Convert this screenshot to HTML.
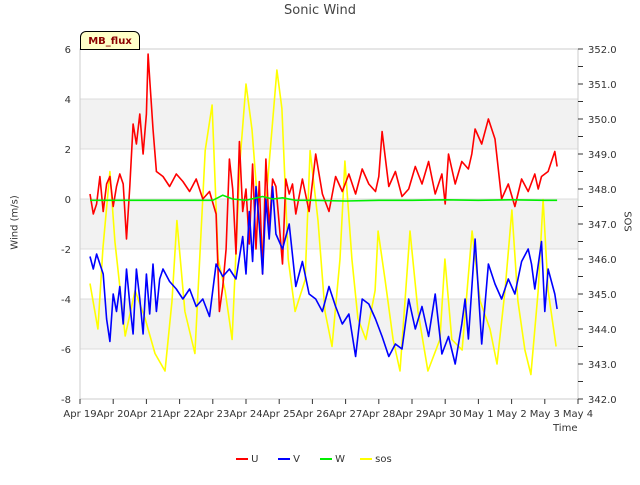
<!DOCTYPE html>
<html><head><meta charset="utf-8"><style>
body{margin:0;background:#fff;font-family:"Liberation Sans",sans-serif}
svg text{font-family:"DejaVu Sans","Liberation Sans",sans-serif}
</style></head><body>
<svg id="c" width="640" height="480" xmlns="http://www.w3.org/2000/svg"></svg>
<script>
const xTickLabels=["Apr 19","Apr 20","Apr 21","Apr 22","Apr 23","Apr 24","Apr 25","Apr 26","Apr 27","Apr 28","Apr 29","Apr 30","May 1","May 2","May 3","May 4"];
const yTicks=[-8,-6,-4,-2,0,2,4,6];
const y2Ticks=[342,343,344,345,346,347,348,349,350,351,352];
const uDays=[0.3,0.4,0.5,0.6,0.7,0.8,0.9,1.0,1.1,1.2,1.3,1.4,1.5,1.6,1.7,1.8,1.9,2.0,2.05,2.1,2.2,2.3,2.5,2.7,2.9,3.1,3.3,3.5,3.7,3.9,4.1,4.2,4.3,4.4,4.5,4.6,4.7,4.8,4.9,5.0,5.1,5.2,5.3,5.4,5.5,5.6,5.7,5.8,5.9,6.0,6.1,6.2,6.3,6.4,6.5,6.7,6.9,7.1,7.3,7.5,7.7,7.9,8.1,8.3,8.5,8.7,8.9,9.0,9.1,9.3,9.5,9.7,9.9,10.1,10.3,10.5,10.7,10.9,11.0,11.1,11.3,11.5,11.7,11.8,11.9,12.1,12.3,12.5,12.7,12.9,13.1,13.3,13.5,13.7,13.8,13.9,14.1,14.3,14.37];
const uVals=[0.2,-0.6,-0.2,0.9,-0.5,0.6,0.9,-0.3,0.5,1.0,0.6,-1.6,0.5,3.0,2.2,3.4,1.8,3.4,5.8,4.8,2.8,1.1,0.9,0.5,1.0,0.7,0.3,0.8,0.0,0.3,-0.6,-4.5,-3.5,-2.0,1.6,0.4,-2.2,2.3,-0.5,0.4,-1.8,1.4,-2.0,0.7,-3.0,1.6,-1.2,0.8,0.5,-1.0,-2.6,0.8,0.2,0.6,-0.6,0.8,-0.5,1.8,0.2,-0.5,0.9,0.3,1.0,0.2,1.2,0.6,0.3,0.9,2.7,0.5,1.1,0.1,0.4,1.3,0.6,1.5,0.2,1.0,-0.2,1.8,0.6,1.5,1.2,1.8,2.8,2.2,3.2,2.4,0.0,0.6,-0.3,0.8,0.3,1.0,0.4,0.9,1.1,1.9,1.3,0.2,-0.3,0.6,0.4,0.8,0.2];
const vDays=[0.3,0.4,0.5,0.7,0.8,0.9,1.0,1.1,1.2,1.3,1.4,1.5,1.6,1.7,1.8,1.9,2.0,2.1,2.2,2.3,2.4,2.5,2.7,2.9,3.1,3.3,3.5,3.7,3.9,4.1,4.3,4.5,4.7,4.9,5.0,5.1,5.2,5.3,5.4,5.5,5.6,5.7,5.8,5.9,6.1,6.3,6.5,6.7,6.9,7.1,7.3,7.5,7.7,7.9,8.1,8.3,8.5,8.7,8.9,9.1,9.3,9.5,9.7,9.9,10.1,10.3,10.5,10.7,10.9,11.1,11.3,11.5,11.6,11.7,11.9,12.1,12.3,12.5,12.7,12.9,13.1,13.3,13.5,13.6,13.7,13.9,14.0,14.1,14.3,14.37];
const vVals=[-2.3,-2.8,-2.2,-3.0,-4.8,-5.7,-3.8,-4.5,-3.5,-5.0,-2.8,-4.2,-5.4,-2.8,-4.0,-5.4,-3.0,-4.6,-2.6,-4.5,-3.2,-2.8,-3.3,-3.6,-4.0,-3.6,-4.3,-4.0,-4.7,-2.6,-3.1,-2.8,-3.2,-1.5,-3.0,-0.5,-2.5,0.5,-1.0,-3.0,0.0,-1.6,0.5,-1.4,-2.0,-1.0,-3.5,-2.5,-3.8,-4.0,-4.5,-3.5,-4.3,-5.0,-4.6,-6.3,-4.0,-4.2,-4.8,-5.5,-6.3,-5.8,-6.0,-4.0,-5.2,-4.3,-5.5,-3.8,-6.2,-5.5,-6.6,-5.0,-4.0,-5.6,-1.6,-5.8,-2.6,-3.4,-4.0,-3.2,-3.8,-2.5,-2.0,-2.6,-3.6,-1.7,-4.5,-2.8,-3.8,-4.4];
const wDays=[0.3,1.0,2.0,3.0,4.0,4.3,4.6,5.0,5.5,5.8,6.1,6.5,7.0,8.0,9.0,10.0,11.0,12.0,13.0,14.0,14.37];
const wVals=[-0.05,-0.05,-0.05,-0.05,-0.05,0.15,0.0,-0.05,0.1,0.0,0.05,-0.05,-0.05,-0.08,-0.05,-0.05,-0.03,-0.05,-0.03,-0.05,-0.05];
const sDays=[0.30,0.54,0.69,0.90,1.05,1.36,1.66,1.96,2.26,2.56,2.77,2.92,3.16,3.46,3.77,3.98,4.16,4.37,4.58,4.82,5.00,5.18,5.48,5.66,5.93,6.08,6.27,6.48,6.78,6.93,7.17,7.38,7.59,7.83,7.98,8.19,8.37,8.61,8.89,8.98,9.19,9.43,9.64,9.94,10.18,10.48,10.84,10.99,11.20,11.51,11.81,12.05,12.35,12.56,12.80,13.01,13.19,13.40,13.58,13.80,13.95,14.10,14.34];
const sVals=[345.3,344.0,346.3,348.5,346.5,343.8,345.1,344.3,343.3,342.8,344.8,347.1,344.5,343.3,349.1,350.4,346.0,345.1,343.7,348.8,351.0,349.7,346.0,348.3,351.4,350.3,346.0,344.5,345.4,349.1,347.1,344.5,343.5,346.0,348.8,346.0,344.3,343.7,345.1,346.8,345.4,343.7,342.8,346.8,344.5,342.8,343.7,346.0,343.7,343.4,346.8,344.8,344.0,343.0,345.1,347.4,344.8,343.4,342.7,345.1,347.7,345.1,343.5];

const L=80,R=578,T=49,B=399;
const X=d=>L+(R-L)*d/15;
const Y=v=>T+(B-T)*(6-v)/14;
const Y2=v=>T+(B-T)*(352-v)/10;
const svg=document.getElementById('c');
const NS='http://www.w3.org/2000/svg';
function mk(tag,attrs,parent){const e=document.createElementNS(NS,tag);for(const k in attrs)e.setAttribute(k,attrs[k]);(parent||svg).appendChild(e);return e;}
[[4,2],[0,-2],[-4,-6]].forEach(b=>{const r=mk('rect',{x:L,y:Y(b[0]),width:R-L,height:Y(b[1])-Y(b[0]),fill:'#f2f2f2'});

});
yTicks.forEach(v=>{const g=mk('line',{x1:L,x2:R,y1:Y(v),y2:Y(v),stroke:'#dcdcdc','stroke-width':1});


const t=mk('text',{x:L-9,y:Y(v)+4,'text-anchor':'end','font-size':10,fill:'#333'});t.textContent=v;

});
const fr=mk('rect',{x:L,y:T,width:R-L,height:B-T,fill:'none',stroke:'#cccccc'});


xTickLabels.forEach((s,i)=>{mk('line',{x1:X(i),x2:X(i),y1:B,y2:B+5,stroke:'#333'});
const t=mk('text',{x:X(i),y:B+18,'text-anchor':'middle','font-size':10,fill:'#333'});t.textContent=s;

});
for(let v=342;v<=352.01;v+=0.5){mk('line',{x1:R,x2:R+5,y1:Y2(v),y2:Y2(v),stroke:'#333'});}
y2Ticks.forEach(v=>{const t=mk('text',{x:R+10,y:Y2(v)+4,'font-size':10,fill:'#333'});t.textContent=v.toFixed(1);

});
function series(days,vals,yf,col,name){const p=mk('polyline',{points:days.map((d,i)=>X(d).toFixed(1)+','+yf(vals[i]).toFixed(1)).join(' '),fill:'none',stroke:col,'stroke-width':1.6,'stroke-linejoin':'round'});

}
series(sDays,sVals,Y2,'#ffff00','sos-line');
series(uDays,uVals,Y,'#ff0000','u-line');
series(vDays,vVals,Y,'#0000ff','v-line');
series(wDays,wVals,Y,'#00ee00','w-line');
</script>
<div style="position:absolute;left:0;top:0;width:640px;height:480px;pointer-events:none">
<div style="position:absolute;top:3px;width:640px;text-align:center;font:13px 'DejaVu Sans',sans-serif;color:#444">Sonic Wind</div>
<div style="position:absolute;left:-20px;top:217px;width:70px;text-align:center;transform:rotate(-90deg);font:10px 'DejaVu Sans',sans-serif;color:#333">Wind (m/s)</div>
<div style="position:absolute;left:607px;top:216px;width:40px;text-align:center;transform:rotate(90deg);font:10px 'DejaVu Sans',sans-serif;color:#333">SOS</div>
<div style="position:absolute;left:553px;top:423px;font:10px 'DejaVu Sans',sans-serif;color:#333">Time</div>
<div style="position:absolute;left:80px;top:31px;width:58px;height:17px;background:#ffffc8;border:1px solid #000;border-radius:6px 6px 0 0;font:bold 10px 'DejaVu Sans',sans-serif;color:#8b0000;text-align:center;line-height:19px">MB_flux</div>
<div style="position:absolute;top:454px;left:0;width:640px;font:10px 'DejaVu Sans',sans-serif;color:#333">
<span style="position:absolute;left:236px"><span style="display:inline-block;width:12px;height:2px;background:#f00;vertical-align:middle"></span> U</span>
<span style="position:absolute;left:278px"><span style="display:inline-block;width:12px;height:2px;background:#00f;vertical-align:middle"></span> V</span>
<span style="position:absolute;left:320px"><span style="display:inline-block;width:12px;height:2px;background:#0e0;vertical-align:middle"></span> W</span>
<span style="position:absolute;left:360px"><span style="display:inline-block;width:12px;height:2px;background:#ff0;vertical-align:middle"></span> sos</span>
</div></div>
</body></html>
